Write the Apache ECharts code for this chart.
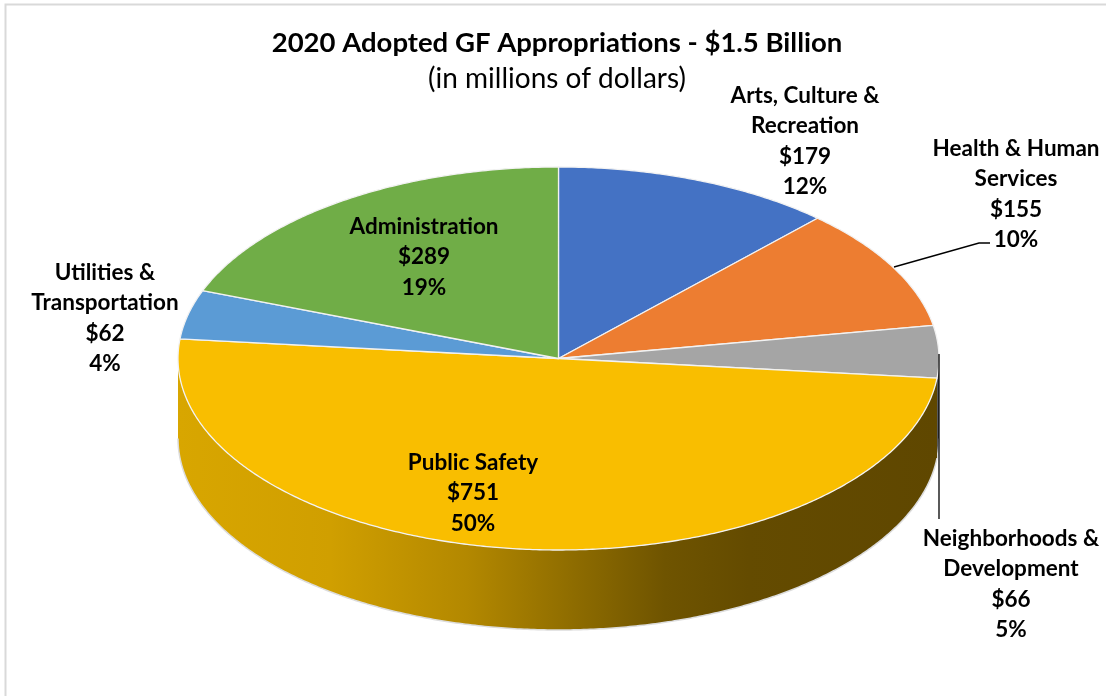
<!DOCTYPE html>
<html>
<head>
<meta charset="utf-8">
<script src="https://cdn.jsdelivr.net/npm/echarts@6/dist/echarts.min.js"></script>
<style>
html,body{margin:0;padding:0;background:#fff;}
#chart{width:1106px;height:696px;}
</style>
</head>
<body>
<div id="chart"></div>
<script>
// ---- data ----
const categories = ['Arts, Culture & Recreation', 'Health & Human Services', 'Neighborhoods & Development', 'Public Safety', 'Utilities & Transportation', 'Administration'];
const labelNames = [['Arts, Culture &', 'Recreation'], ['Health & Human', 'Services'], ['Neighborhoods &', 'Development'], ['Public Safety'], ['Utilities &', 'Transportation'], ['Administration']];
const values = [179, 155, 66, 751, 62, 289];
const percentLabels = ['12%', '10%', '5%', '50%', '4%', '19%'];
const titleText = '2020 Adopted GF Appropriations - $1.5 Billion';
const subtitleText = '(in millions of dollars)';

// ---- styles / layout ----
const colors = ['#4472C4', '#ED7D31', '#A5A5A5', '#F9BE00', '#5B9BD5', '#70AD47'];
const sideColors = ['#2A4A80', '#9A4E1C', '#5A5A5A', null, '#3A6A98', '#4A7A30'];
const geom = { cx: 558.5, cy: 358.5, rx: 380.5, ry: 191.5, depth: 80 };
const labelPos = [[805, 95], [1016, 148], [1011, 538], [473, 462], [105, 272], [424, 226]];
const leaderLines = [null, [[894, 267], [979, 243], [990, 243]], [[939, 354], [939, 519]], null, null, null];
const FONT = 'Lato, "Open Sans", sans-serif';

const total = values.reduce((a, b) => a + b, 0);
const starts = [];
let acc = 0;
values.forEach(v => { starts.push(acc / total * Math.PI * 2); acc += v; });

function pt(t, dy) {
  return [geom.cx + geom.rx * Math.sin(t), geom.cy - geom.ry * Math.cos(t) + (dy || 0)];
}
function arc(a, b, dy) {
  const pts = [];
  const n = Math.max(2, Math.ceil(Math.abs(b - a) / (Math.PI / 360)));
  for (let i = 0; i <= n; i++) pts.push(pt(a + (b - a) * i / n, dy));
  return pts;
}

const goldGrad = new echarts.graphic.LinearGradient(178, 0, 939, 0, [
  { offset: 0, color: '#D8A600' },
  { offset: 0.2, color: '#D09F00' },
  { offset: 0.38, color: '#B38800' },
  { offset: 0.52, color: '#8E6C00' },
  { offset: 0.64, color: '#6F5400' },
  { offset: 0.75, color: '#644B00' },
  { offset: 1, color: '#5F4700' }
], true);

const chart = echarts.init(document.getElementById('chart'), null, { renderer: 'canvas' });

const seriesData = values.map((v, i) => ({ name: categories[i], value: v }));

chart.setOption({
  animation: false,
  backgroundColor: '#fff',
  graphic: [
    { type: 'rect', shape: { x: 5.5, y: 4.5, width: 1300, height: 900 }, style: { fill: 'none', stroke: '#D9D9D9', lineWidth: 2 }, z: 0 },
    { type: 'text', x: 557, y: 43, style: { text: titleText, font: 'bold 27.5px ' + FONT, fill: '#000', textAlign: 'center', textVerticalAlign: 'middle' }, z: 10 },
    { type: 'text', x: 557, y: 79, style: { text: subtitleText, font: '28px ' + FONT, fill: '#000', textAlign: 'center', textVerticalAlign: 'middle' }, z: 10 }
  ],
  series: [
    {
      type: 'custom', coordinateSystem: 'none', z: 2, data: seriesData,
      renderItem: function (params, api) {
        const i = params.dataIndex;
        const a = starts[i], b = a + api.value(0) / total * Math.PI * 2;
        const s = Math.max(a, Math.PI / 2), e = Math.min(b, Math.PI * 1.5);
        const children = [];
        if (s < e) {
          const pts = arc(s, e, 0).concat(arc(e, s, geom.depth));
          children.push({ type: 'polygon', shape: { points: pts }, style: { fill: sideColors[i] || goldGrad, stroke: null } });
          children.push({ type: 'polyline', shape: { points: arc(s, e, geom.depth) }, style: { fill: null, stroke: '#DCDCDC', lineWidth: 1.5 } });
        }
        return { type: 'group', children: children };
      }
    },
    {
      type: 'custom', coordinateSystem: 'none', z: 3, data: seriesData,
      renderItem: function (params, api) {
        const i = params.dataIndex;
        const a = starts[i], b = a + api.value(0) / total * Math.PI * 2;
        const pts = [[geom.cx, geom.cy]].concat(arc(a, b, 0));
        return { type: 'polygon', shape: { points: pts }, style: { fill: colors[i], stroke: '#F2F2F2', lineWidth: 1.3, lineJoin: 'round' } };
      }
    },
    {
      type: 'custom', coordinateSystem: 'none', z: 5, data: seriesData,
      renderItem: function (params, api) {
        const i = params.dataIndex;
        const txt = labelNames[i].concat(['$' + api.value(0), percentLabels[i]]).join('\n');
        const children = [{
          type: 'text', x: labelPos[i][0], y: labelPos[i][1] - 15,
          style: { text: txt, font: 'bold 22.5px ' + FONT, fill: '#000', align: 'center', verticalAlign: 'top', lineHeight: 30.5 }
        }];
        if (leaderLines[i]) {
          children.push({ type: 'polyline', shape: { points: leaderLines[i] }, style: { fill: null, stroke: '#000', lineWidth: 1.3 } });
        }
        return { type: 'group', children: children };
      }
    }
  ]
});
</script>
</body>
</html>
